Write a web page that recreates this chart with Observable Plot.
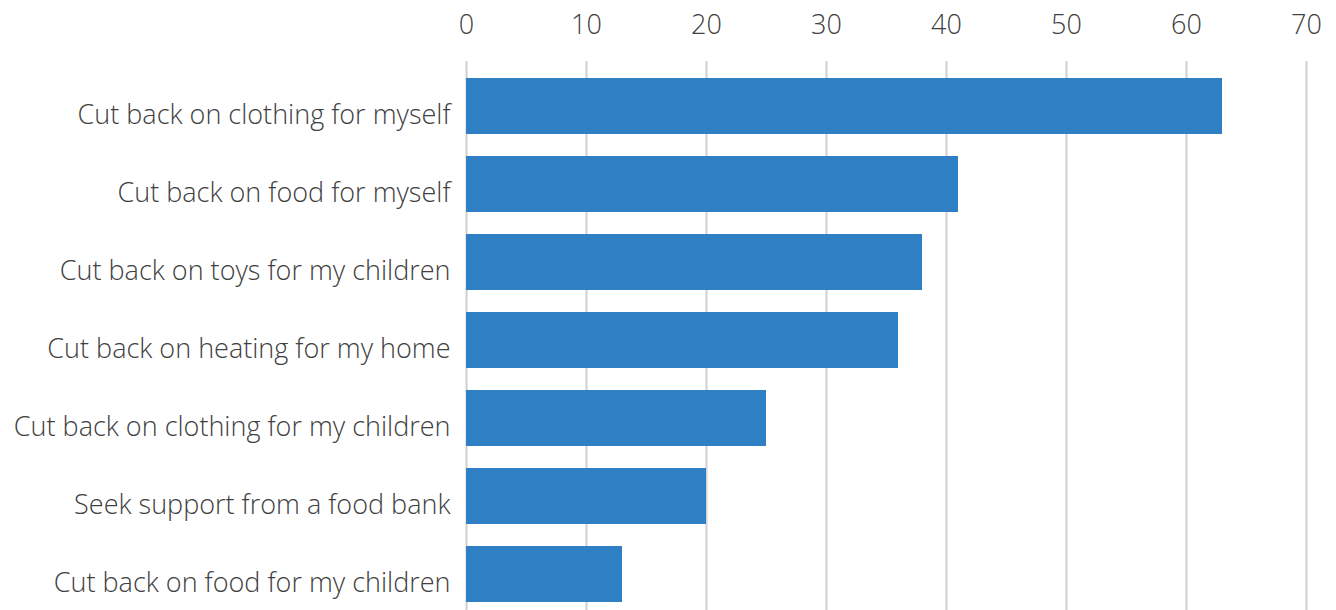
<!DOCTYPE html>
<html>
<head>
<meta charset="utf-8">
<script src="https://cdn.jsdelivr.net/npm/d3@7"></script>
<script src="https://cdn.jsdelivr.net/npm/@observablehq/plot@0.6"></script>
<style>
  html, body { margin: 0; padding: 0; background: #fff; }
  svg { font-family: "Open Sans", sans-serif; }
</style>
</head>
<body>
<div id="chart"></div>
<script>
const categories = [
  "Cut back on clothing for myself",
  "Cut back on food for myself",
  "Cut back on toys for my children",
  "Cut back on heating for my home",
  "Cut back on clothing for my children",
  "Seek support from a food bank",
  "Cut back on food for my children"
];
const values = [63, 41, 38, 36, 25, 20, 13];
const xTicks = [0, 10, 20, 30, 40, 50, 60, 70];

const data = categories.map((c, i) => ({category: c, value: values[i]}));

const chart = Plot.plot({
  width: 1336,
  height: 610,
  marginLeft: 466,
  marginRight: 30,
  marginTop: 61,
  marginBottom: 0,
  style: {fontSize: "27px", fontWeight: 300, color: "#404040", fontFamily: "'Open Sans', sans-serif"},
  x: {domain: [0, 70], range: [466, 1306]},
  y: {domain: categories, range: [55.4, 625.3], padding: 0.276},
  marks: [
    Plot.ruleX(xTicks, {stroke: "#d0d0d0", strokeWidth: 2, strokeOpacity: 1}),
    Plot.barX(data, {x: "value", y: "category", fill: "#2e7fc4"}),
    Plot.axisX(xTicks, {anchor: "top", tickSize: 0, tickPadding: 28, label: null, fill: "#404040"}),
    Plot.axisY({anchor: "left", tickSize: 0, tickPadding: 16, dy: 9, label: null, fill: "#404040"})
  ]
});
document.getElementById("chart").appendChild(chart);
</script>
</body>
</html>
